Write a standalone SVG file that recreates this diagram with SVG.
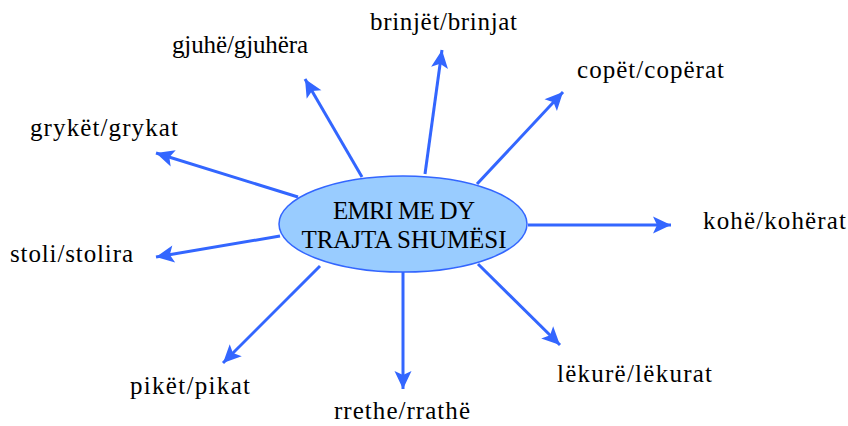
<svg xmlns="http://www.w3.org/2000/svg" width="848" height="426" viewBox="0 0 848 426">
<style>
.lbl{font-family:"Liberation Serif","Times New Roman",serif;font-size:25px;fill:#000}
.ctr{font-family:"Liberation Serif","Times New Roman",serif;font-size:25px;fill:#000;text-anchor:middle}
.arr{stroke:#3366FF;stroke-width:3;fill:none;marker-end:url(#ah)}
</style>
<defs>
<marker id="ah" markerUnits="userSpaceOnUse" markerWidth="22" markerHeight="20" viewBox="-19 -10 21 20" refX="0" refY="0" orient="auto">
<path d="M0,0 L-18,-8.5 L-14,0 L-18,8.5 Z" fill="#3366FF"/>
</marker>
</defs>
<rect width="848" height="426" fill="#fff"/>
<g id="connectors">
<line class="arr" x1="425" y1="174" x2="442" y2="50"/>
<line class="arr" x1="362" y1="177" x2="305" y2="79"/>
<line class="arr" x1="477" y1="184" x2="563" y2="92"/>
<line class="arr" x1="298" y1="197" x2="156" y2="153"/>
<line class="arr" x1="528" y1="225" x2="671" y2="225"/>
<line class="arr" x1="280" y1="236" x2="156" y2="257"/>
<line class="arr" x1="478" y1="264" x2="560" y2="345"/>
<line class="arr" x1="320" y1="266" x2="223" y2="363"/>
<line class="arr" x1="403" y1="272" x2="403" y2="389"/>
</g>
<g id="center">
<ellipse cx="403" cy="224" rx="124" ry="48" fill="#99CCFF" stroke="#3366FF" stroke-width="1.5"/>
<text class="ctr" x="404" y="219" textLength="142">EMRI ME DY</text>
<text class="ctr" x="404" y="248" textLength="205">TRAJTA SHUMËSI</text>
</g>
<g id="n-brinjet"><text class="lbl" x="370" y="30" textLength="147">brinjët/brinjat</text></g>
<g id="n-gjuhe"><text class="lbl" x="172" y="53" textLength="136">gjuhë/gjuhëra</text></g>
<g id="n-copet"><text class="lbl" x="577" y="78" textLength="147">copët/copërat</text></g>
<g id="n-gryket"><text class="lbl" x="30" y="136" textLength="148">grykët/grykat</text></g>
<g id="n-kohe"><text class="lbl" x="703" y="229" textLength="143">kohë/kohërat</text></g>
<g id="n-stoli"><text class="lbl" x="10" y="262" textLength="123">stoli/stolira</text></g>
<g id="n-lekure"><text class="lbl" x="557" y="382" textLength="155">lëkurë/lëkurat</text></g>
<g id="n-piket"><text class="lbl" x="130" y="394" textLength="120">pikët/pikat</text></g>
<g id="n-rrethe"><text class="lbl" x="334" y="419" textLength="136">rrethe/rrathë</text></g>
</svg>
